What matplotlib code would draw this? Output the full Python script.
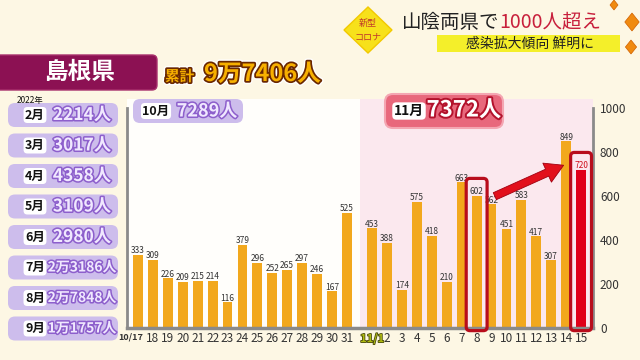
import numpy as np
import matplotlib
matplotlib.use("Agg")
import matplotlib.pyplot as plt
from matplotlib.patches import FancyBboxPatch, Rectangle, Polygon, FancyArrowPatch
import matplotlib.patheffects as pe

plt.rcParams['font.family'] = ['Noto Sans CJK JP', 'DejaVu Sans']

# ---------------- data ----------------
oct_labels = ["10/17", "18", "19", "20", "21", "22", "23", "24", "25", "26", "27", "28", "29", "30", "31"]
oct_vals = [333, 309, 226, 209, 215, 214, 116, 379, 296, 252, 265, 297, 246, 167, 525]
nov_labels = ["11/1", "2", "3", "4", "5", "6", "7", "8", "9", "10", "11", "12", "13", "14", "15"]
nov_vals = [453, 388, 174, 575, 418, 210, 663, 602, 562, 451, 583, 417, 307, 849, 720]
highlight = [7, 14]          # 11/8 and 11/15
y_ticks = [0, 200, 400, 600, 800, 1000]

month_labels = ["2月", "3月", "4月", "5月", "6月", "7月", "8月", "9月"]
month_vals = ["2214人", "3017人", "4358人", "3109人", "2980人", "2万3186人", "2万7848人", "1万1757人"]
oct_total = "7289人"
nov_total = "7372人"
cum_total = "9万7406人"

W, H = 640, 360
fig = plt.figure(figsize=(6.4, 3.6), dpi=100)
fig.patch.set_facecolor('#fdf7e4')

# ---------------- main chart ----------------
ax = fig.add_axes([127 / W, 1 - 328 / H, (593 - 127) / W, (328 - 108) / H], zorder=2)
ax.patch.set_alpha(0)
oct_pos = np.arange(len(oct_vals))
nov_pos = np.arange(len(nov_vals)) + 15.7
x0, x1 = -0.74, 30.5
ax.set_xlim(x0, x1)
ax.set_ylim(0, 1000)
split = 14.85
ax.add_patch(Rectangle((x0, 0), split - x0, 1040, facecolor='#fffefb', edgecolor='none', clip_on=False, zorder=0))
ax.add_patch(Rectangle((split, 0), x1 - split, 1040, facecolor='#fbe8ee', edgecolor='none', clip_on=False, zorder=0))

bar_c = '#f2a81d'
red = '#e0001a'
ax.bar(oct_pos, oct_vals, width=0.66, color=bar_c, zorder=2)
nov_colors = [red if i == 14 else bar_c for i in range(len(nov_vals))]
ax.bar(nov_pos, nov_vals, width=0.66, color=nov_colors, zorder=2)

for x, v in zip(oct_pos, oct_vals):
    ax.text(x, v - 2, str(v), ha='center', va='bottom', fontsize=6, color='#333333', zorder=3)
for i, (x, v) in enumerate(zip(nov_pos, nov_vals)):
    ax.text(x, v - 2, str(v), ha='center', va='bottom', fontsize=6,
            color=('#d0101c' if i == 14 else '#333333'), zorder=3)

# highlight boxes
for i in highlight:
    x, v = nov_pos[i], nov_vals[i]
    ax.add_patch(FancyBboxPatch((x - 0.7, -12), 1.4, v + 90, boxstyle='round,pad=0,rounding_size=0.25',
                                mutation_aspect=67, facecolor='none', edgecolor='#b80d1c',
                                linewidth=2.3, clip_on=False, zorder=4))

# arrow
a, b = highlight
arr = FancyArrowPatch((nov_pos[a] + 1.05, nov_vals[a] - 8), (nov_pos[b] - 1.0, nov_vals[b] + 25),
                      arrowstyle='simple,head_length=1.3,head_width=1.5,tail_width=0.55',
                      mutation_scale=10, facecolor='#e2101c', edgecolor='#a00010', linewidth=0.6,
                      zorder=5, clip_on=False)
ax.add_patch(arr)

ax.set_xticks(np.concatenate([oct_pos, nov_pos]))
ax.set_xticklabels([""] + oct_labels[1:] + nov_labels, fontsize=8.5, color='#333333')
ax.tick_params(axis='x', length=0, pad=3)
ax.annotate(oct_labels[0], xy=(oct_pos[0], 0), xytext=(-5, -3), textcoords='offset points',
            ha='center', va='top', fontsize=6.5, fontweight='bold', color='#333333')
tl = ax.get_xticklabels()
tl[15].set_color('#b0bb10')
tl[15].set_fontweight('bold')
tl[15].set_fontsize(8)
tl[15].set_path_effects([pe.withStroke(linewidth=1.2, foreground='#4a4a10')])

ax.yaxis.tick_right()
ax.set_yticks(y_ticks)
ax.set_yticklabels([str(t) for t in y_ticks], fontsize=8.5, color='#333333')
ax.tick_params(axis='y', length=0, pad=5)
ax.spines['top'].set_visible(False)
for s in ['left', 'right']:
    ax.spines[s].set_color('#8a8a8a'); ax.spines[s].set_linewidth(2)
ax.spines['bottom'].set_color('#8a8a8a'); ax.spines['bottom'].set_linewidth(2.5)

# ---------------- foreground overlay ----------------
fg = fig.add_axes([0, 0, 1, 1], zorder=5)
fg.set_xlim(0, W); fg.set_ylim(H, 0); fg.axis('off'); fg.patch.set_alpha(0)

# header
fg.add_patch(FancyBboxPatch((-6, 55), 163, 35, boxstyle='round,pad=0,rounding_size=5',
                            facecolor='#8c1153', edgecolor='#a8306c', linewidth=1))
fg.text(80, 72, "島根県", fontsize=17, color='white', fontweight='bold', ha='center', va='center')

gold_fx = [pe.Stroke(linewidth=4.5, foreground='white'), pe.Stroke(linewidth=2.5, foreground='#6a2800'), pe.Normal()]
fg.text(165, 76, "累計", fontsize=10.5, color='#f7b000', fontweight='bold', ha='left', va='center', path_effects=gold_fx)
fg.text(204, 74, cum_total, fontsize=17, color='#f7b000', fontweight='bold', ha='left', va='center', path_effects=gold_fx)

# top-right title
fg.add_patch(Polygon([[368, 7], [392, 30], [368, 53], [344, 30]], closed=True, facecolor='#f7e11b', edgecolor='#f2c900'))
fg.text(368, 23, "新型", fontsize=6.5, color='#c0392b', ha='center', va='center')
fg.text(368, 37, "コロナ", fontsize=6.5, color='#c0392b', ha='center', va='center')
fg.text(402, 22, "山陰両県で", fontsize=14, color='#222222', ha='left', va='center')
fg.text(499, 22, "1000人超え", fontsize=14, color='#c8203c', ha='left', va='center')
fg.add_patch(Rectangle((437, 35), 183, 17, facecolor='#f4ef2a', edgecolor='none'))
fg.text(530, 43.5, "感染拡大傾向 鮮明に", fontsize=10, color='#222222', ha='center', va='center')
for (cx, cy, r) in [(632, 22, 9), (631, 47, 7), (614, 5, 5)]:
    fg.add_patch(Polygon([[cx, cy - r], [cx + r * 0.8, cy], [cx, cy + r], [cx - r * 0.8, cy]],
                         closed=True, facecolor='#f08a10', edgecolor='#d06000', linewidth=0.5))

# left monthly panel
lav = '#cdbdec'
purple_fx = [pe.withStroke(linewidth=2.2, foreground='#8d5fcc')]
fg.text(30, 100, "2022年", fontsize=6, color='#111111', ha='center', va='center')
for i, (m, v) in enumerate(zip(month_labels, month_vals)):
    yc = 115 + i * 30.5
    fg.add_patch(FancyBboxPatch((8, yc - 12), 110, 24, boxstyle='round,pad=0,rounding_size=7',
                                facecolor=lav, edgecolor='none'))
    fg.text(35, yc, m, fontsize=9, color='#111111', fontweight='bold', ha='center', va='center',
            bbox=dict(boxstyle='round,pad=0.12,rounding_size=0.3', facecolor='white', edgecolor='none'))
    fs = 10 if '万' in v else 12.5
    fg.text(82, yc, v, fontsize=fs, color='#f0e8ff', fontweight='bold', ha='center', va='center',
            path_effects=purple_fx)

# October total box
fg.add_patch(FancyBboxPatch((133, 99), 110, 24, boxstyle='round,pad=0,rounding_size=7',
                            facecolor=lav, edgecolor='none'))
fg.text(156, 111, "10月", fontsize=9, color='#111111', fontweight='bold', ha='center', va='center',
        bbox=dict(boxstyle='round,pad=0.12,rounding_size=0.3', facecolor='white', edgecolor='none'))
fg.text(207, 111, oct_total, fontsize=13, color='#f0e8ff', fontweight='bold', ha='center', va='center',
        path_effects=purple_fx)

# November total box
fg.add_patch(FancyBboxPatch((385, 94), 118, 34, boxstyle='round,pad=0,rounding_size=8',
                            facecolor='#e8687c', edgecolor='#f4a6b2', linewidth=1.5))
fg.text(409, 111, "11月", fontsize=10, color='#111111', fontweight='bold', ha='center', va='center',
        bbox=dict(boxstyle='round,pad=0.12,rounding_size=0.3', facecolor='white', edgecolor='none'))
fg.text(464, 110, nov_total, fontsize=16, color='white', fontweight='bold', ha='center', va='center',
        path_effects=[pe.withStroke(linewidth=2.8, foreground='#b3122c')])

fig.savefig('out.png', dpi=100, facecolor=fig.get_facecolor())
